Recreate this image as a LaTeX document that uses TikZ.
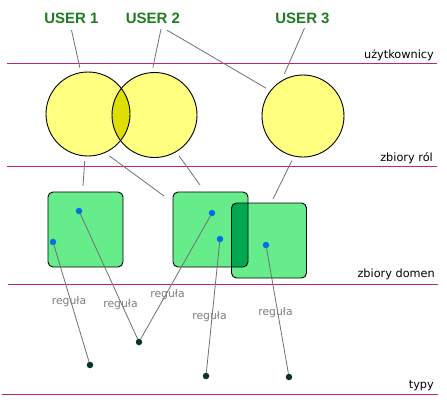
\documentclass[tikz,border=0pt]{standalone}
\usepackage{fontspec}
\newfontfamily\labfont{DejaVu Sans}
\newfontfamily\userfont{Liberation Sans}
\usetikzlibrary{calc}
\definecolor{layerline}{RGB}{195,35,115}
\definecolor{usergreen}{RGB}{30,125,30}
\definecolor{roleyellow}{RGB}{255,255,128}
\definecolor{roledark}{RGB}{222,222,0}
\definecolor{domgreen}{RGB}{102,236,138}
\definecolor{domdark}{RGB}{0,168,80}
\definecolor{objblue}{RGB}{0,112,230}
\definecolor{typdark}{RGB}{10,52,42}
\definecolor{conngray}{RGB}{112,112,112}
\definecolor{rulegray}{RGB}{125,125,125}
\begin{document}
\begin{tikzpicture}[x=1pt,y=-1pt,
  userlabel/.style={font=\userfont\bfseries\fontsize{15}{15}\selectfont, text=usergreen, inner sep=0pt, outer sep=0pt, anchor=base},
  levellabel/.style={font=\labfont\fontsize{11.3}{13}\selectfont, inner sep=0pt, anchor=base east},
  rulelabel/.style={font=\labfont\fontsize{10.8}{13}\selectfont, text=rulegray, inner sep=0pt},
  roleset/.style={circle, fill=roleyellow, minimum size=#1, inner sep=0pt, outer sep=5pt},
  domainbox/.style={rectangle, rounded corners=5pt, fill=domgreen, minimum size=75pt, inner sep=0pt, outer sep=0pt},
  objdot/.style={circle, fill=objblue, minimum size=6.5pt, inner sep=0pt},
  typdot/.style={circle, fill=typdark, minimum size=6.5pt, inner sep=0pt},
  outline/.style={draw=black, line width=0.9pt},
  conn/.style={draw=conngray, line width=0.8pt},
  layer/.style={draw=layerline, line width=1.4pt}]
\useasboundingbox (0,0) rectangle (447,407);

% layer lines
\draw[layer] (7,63.5) -- (437,63.5);
\draw[layer] (7,166.7) -- (437,166.7);
\draw[layer] (8,284.3) -- (438,284.3);
\draw[layer] (2,394.3) -- (438,394.3);

% level labels
\node[levellabel] (lu) at (434,58) {użytkownicy};
\node[levellabel] (lr) at (433,161.5) {zbiory ról};
\node[levellabel] (ld) at (435,277) {zbiory domen};
\node[levellabel] (lt) at (434,388) {typy};

% users
\node[userlabel] (u1) at (71.5,23) {USER 1};
\node[userlabel] (u2) at (153,23) {USER 2};
\node[userlabel] (u3) at (302.5,23) {USER 3};

% role sets
\node[roleset=84pt] (c1) at (88,114) {};
\node[roleset=85pt] (c2) at (154.5,115) {};
\node[roleset=82pt] (c3) at (303,116) {};
\begin{scope}
  \clip (c1.center) circle[radius=42pt];
  \fill[roledark] (c2.center) circle[radius=42.5pt];
\end{scope}
\draw[outline] (c1.center) circle[radius=42pt];
\draw[outline] (c2.center) circle[radius=42.5pt];
\draw[outline] (c3.center) circle[radius=41pt];

% domain sets
\node[domainbox] (sq1) at (85.5,229.5) {};
\node[domainbox] (sq2) at (210.5,229.5) {};
\node[domainbox] (sq3) at (269,240.5) {};
\begin{scope}
  \clip[rounded corners=5pt] (sq2.north west) rectangle (sq2.south east);
  \fill[domdark, rounded corners=5pt] (sq3.north west) rectangle (sq3.south east);
\end{scope}
\draw[outline, rounded corners=5pt] (sq1.north west) rectangle (sq1.south east);
\draw[outline, rounded corners=5pt] (sq2.north west) rectangle (sq2.south east);
\draw[outline, rounded corners=5pt] (sq3.north west) rectangle (sq3.south east);

% connectors users -> roles
\draw[conn] ($(u1.south)+(0,7)$) -- (c1.100);
\draw[conn] ($(u2.south)+(8,6)$) -- (c2.92);
\draw[conn] ($(u2.south)+(14,7)$) -- (c3.143);
\draw[conn] ($(u3.south)+(2,5)$) -- (c3.114);

% connectors roles -> domains
\draw[conn] (c1.266) -- ($(sq1.north)+(-2.5,-6)$);
\draw[conn] (c1.297) -- ($(sq2.north west)+(-9,4)$);
\draw[conn] (c2.301) -- ($(sq2.north)+(-10.5,-7)$);
\draw[conn] (c3.256) -- ($(sq3.north)+(4,-4)$);

% objects and types
\node[objdot] (d1) at (79,211) {};
\node[objdot] (d2) at (53,242) {};
\node[objdot] (d3) at (212,213) {};
\node[objdot] (d4) at (220,239) {};
\node[objdot] (d5) at (266,245) {};
\node[typdot] (t1) at (90,365) {};
\node[typdot] (t2) at (139,342) {};
\node[typdot] (t3) at (206,376) {};
\node[typdot] (t4) at (289,377) {};

\draw[conn] (d2) -- (t1);
\draw[conn] (d1) -- (t2);
\draw[conn] (d3) -- (t2);
\draw[conn] (d4) -- (t3);
\draw[conn] (d5) -- (t4);

% rule labels
\node[rulelabel] (r1) at (69,302) {reguła};
\node[rulelabel] (r2) at (120.5,305) {reguła};
\node[rulelabel] (r3) at (167.5,294.5) {reguła};
\node[rulelabel] (r4) at (209.5,317) {reguła};
\node[rulelabel] (r5) at (275.5,313) {reguła};
\end{tikzpicture}
\end{document}
